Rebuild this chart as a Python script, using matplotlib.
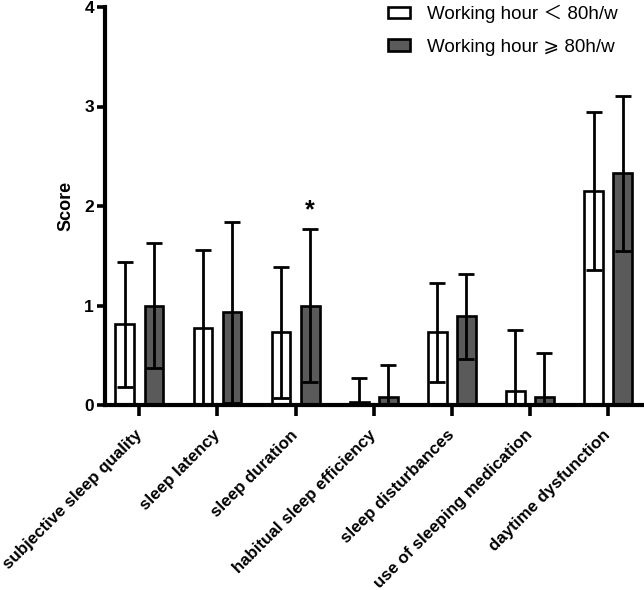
import numpy as np
import matplotlib
matplotlib.use("Agg")
import matplotlib.pyplot as plt

plt.rcParams['font.family'] = ['Liberation Sans', 'Noto Sans CJK SC', 'DejaVu Sans']

categories = ['subjective sleep quality', 'sleep latency', 'sleep duration',
              'habitual sleep efficiency', 'sleep disturbances',
              'use of sleeping medication', 'daytime dysfunction']
# mean and SD
low_mean = [0.81, 0.77, 0.73, 0.03, 0.73, 0.14, 2.15]
low_sd = [0.63, 0.79, 0.66, 0.24, 0.50, 0.61, 0.79]
high_mean = [1.00, 0.93, 1.00, 0.08, 0.89, 0.08, 2.33]
high_sd = [0.63, 0.91, 0.77, 0.32, 0.43, 0.44, 0.78]
labels = ['Working hour ＜ 80h/w', 'Working hour ⩾ 80h/w']
star_group = 2

fig = plt.figure(figsize=(6.44, 5.9), dpi=100)
ax = fig.add_axes([105 / 644, 185 / 590, 539 / 644, 398 / 590])

x = np.arange(len(categories))
off = 0.186
w = 0.24
ekw = dict(fmt='none', ecolor='black', elinewidth=2.0, capsize=5.5, capthick=2.0, zorder=3)

b1 = ax.bar(x - off, low_mean, w, color='white', edgecolor='black', linewidth=1.9,
            label=labels[0], zorder=2)
b2 = ax.bar(x + off, high_mean, w, color='#5a5a5a', edgecolor='black', linewidth=1.9,
            label=labels[1], zorder=2)
ax.errorbar(x - off, low_mean, yerr=low_sd, **ekw)
ax.errorbar(x + off, high_mean, yerr=high_sd, **ekw)

ax.text(x[star_group] + off, high_mean[star_group] + high_sd[star_group] + 0.07, '*',
        ha='center', va='bottom', fontsize=18, fontweight='bold')

ax.set_xlim(-0.44, 6.46)
ax.set_ylim(0, 4)
ax.set_yticks([0, 1, 2, 3, 4])
ax.set_xticks(x)
ax.set_xticklabels(categories, rotation=45, ha='right', va='center',
                   rotation_mode='anchor', fontsize=12.2, fontweight='bold')
for t in ax.get_yticklabels():
    t.set_fontweight('bold')
    t.set_fontsize(12.5)
ax.set_ylabel('Score', fontsize=13, fontweight='bold', labelpad=7)

ax.spines['top'].set_visible(False)
ax.spines['right'].set_visible(False)
ax.spines['left'].set_linewidth(3.0)
ax.spines['bottom'].set_linewidth(3.0)
ax.tick_params(axis='y', length=6, width=2.6, pad=2)
ax.tick_params(axis='x', length=8, width=2.6, pad=12)

leg = ax.legend(loc='upper left', bbox_to_anchor=(266 / 539, 1.048), frameon=False,
                fontsize=13.5, handlelength=1.2, handleheight=0.6, handletextpad=0.9,
                labelspacing=0.85)

fig.savefig('out.png', dpi=100)
